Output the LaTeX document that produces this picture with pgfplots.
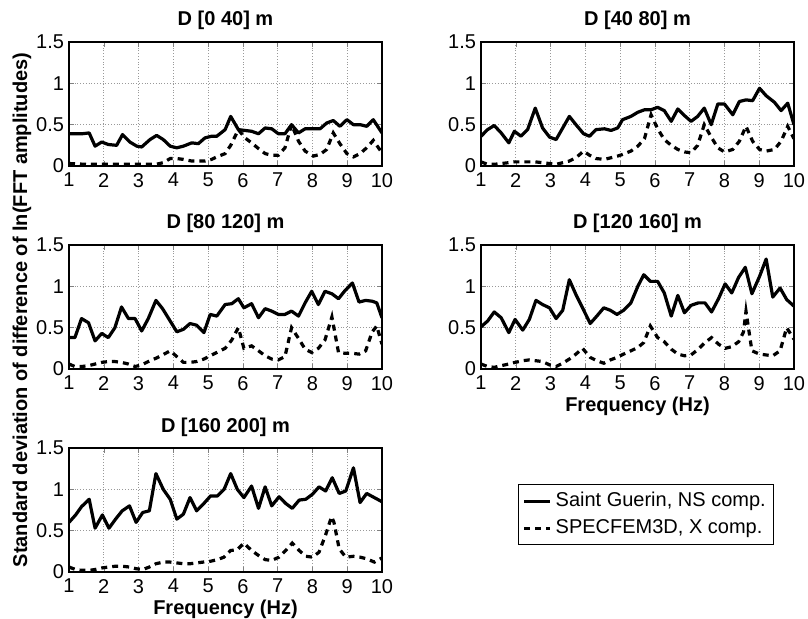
\documentclass[border=0pt]{standalone}
\usepackage{fontspec}
\setmainfont{Liberation Sans}
\usepackage{pgfplots}
\pgfplotsset{compat=1.18}
\pgfplotsset{
  every axis title shift=0pt,
  panel/.style={
    scale only axis, width=156.5pt, height=62pt,
    xmin=1,xmax=10,ymin=0,ymax=1.5,
    xtick={1,...,10}, ytick={0,0.5,1,1.5},
    tick align=inside, major tick length=2.5pt,
    grid=major, grid style={densely dotted, gray!80, line width=0.35pt},
    axis line style={line width=0.6pt},
    /pgf/number format/assume math mode=true,
    tick label style={font=\fontsize{10}{12}\selectfont},
    yticklabel style={xshift=1pt},
    title style={font=\fontsize{10}{12}\selectfont\bfseries, at={(0.5,1)}, anchor=base, yshift=8pt},
    label style={font=\fontsize{10}{12}\selectfont\bfseries},
    xlabel style={at={(0.5,0)}, anchor=base, yshift=-21.3pt},
  },
  sline/.style={black, line width=1.6pt, line join=round},
  dline/.style={black, line width=1.6pt, dash pattern=on 3pt off 2.5pt},
}
\begin{document}
\begin{tikzpicture}
\useasboundingbox (0pt,0pt) rectangle (404pt,-309.5pt);
% Panel 1
\begin{axis}[panel, at={(34.5pt,-83pt)}, anchor=south west, title={D [0 40] m}]
\addplot[sline] coordinates {(1.00,0.39)(1.19,0.39)(1.38,0.39)(1.58,0.40)(1.75,0.24)(1.94,0.29)(2.13,0.26)(2.37,0.25)(2.54,0.38)(2.75,0.29)(2.95,0.24)(3.09,0.23)(3.33,0.32)(3.52,0.37)(3.71,0.32)(3.91,0.24)(4.10,0.22)(4.29,0.24)(4.53,0.28)(4.72,0.27)(4.91,0.34)(5.10,0.36)(5.25,0.36)(5.49,0.44)(5.65,0.60)(5.87,0.44)(6.06,0.43)(6.25,0.42)(6.45,0.39)(6.64,0.46)(6.83,0.45)(7.02,0.39)(7.21,0.39)(7.40,0.50)(7.60,0.40)(7.79,0.45)(8.03,0.45)(8.22,0.45)(8.41,0.52)(8.60,0.55)(8.79,0.48)(8.99,0.56)(9.18,0.50)(9.37,0.50)(9.56,0.48)(9.75,0.56)(10.0,0.40)};
\addplot[dline] coordinates {(1.00,0.03)(1.5,0.02)(2.0,0.02)(2.5,0.02)(3.0,0.02)(3.5,0.02)(3.71,0.04)(3.91,0.09)(4.10,0.09)(4.29,0.08)(4.53,0.06)(4.72,0.06)(4.91,0.06)(5.10,0.08)(5.25,0.11)(5.49,0.15)(5.65,0.25)(5.87,0.44)(6.06,0.34)(6.25,0.28)(6.45,0.21)(6.64,0.15)(6.83,0.13)(7.02,0.13)(7.21,0.22)(7.40,0.50)(7.60,0.30)(7.79,0.18)(8.03,0.12)(8.22,0.14)(8.41,0.20)(8.60,0.40)(8.79,0.27)(8.99,0.15)(9.18,0.11)(9.37,0.15)(9.56,0.22)(9.75,0.31)(10.0,0.16)};
\end{axis}
% Panel 2
\begin{axis}[panel, at={(240.5pt,-83pt)}, anchor=south west, title={D [40 80] m}]
\addplot[sline] coordinates {(1.00,0.36)(1.19,0.44)(1.38,0.49)(1.58,0.40)(1.80,0.28)(1.96,0.42)(2.15,0.36)(2.34,0.44)(2.56,0.70)(2.77,0.46)(2.97,0.35)(3.16,0.32)(3.35,0.46)(3.54,0.60)(3.73,0.50)(3.95,0.39)(4.12,0.36)(4.31,0.44)(4.55,0.45)(4.74,0.43)(4.93,0.46)(5.07,0.56)(5.31,0.60)(5.51,0.65)(5.70,0.68)(5.89,0.68)(6.08,0.71)(6.27,0.67)(6.47,0.54)(6.66,0.69)(6.85,0.61)(7.04,0.54)(7.23,0.60)(7.42,0.70)(7.62,0.50)(7.81,0.75)(8.00,0.75)(8.24,0.62)(8.43,0.78)(8.62,0.80)(8.81,0.79)(9.01,0.94)(9.20,0.85)(9.44,0.77)(9.63,0.67)(9.82,0.76)(10.0,0.50)};
\addplot[dline] coordinates {(1.00,0.05)(1.19,0.02)(1.38,0.02)(1.58,0.03)(1.80,0.04)(1.96,0.05)(2.15,0.05)(2.34,0.05)(2.56,0.05)(2.77,0.04)(2.97,0.03)(3.16,0.02)(3.35,0.04)(3.54,0.06)(3.73,0.10)(3.95,0.18)(4.12,0.13)(4.31,0.09)(4.55,0.08)(4.74,0.10)(4.93,0.12)(5.07,0.14)(5.31,0.18)(5.51,0.24)(5.70,0.33)(5.89,0.62)(6.08,0.45)(6.27,0.32)(6.47,0.25)(6.66,0.20)(6.85,0.17)(7.04,0.16)(7.23,0.25)(7.42,0.50)(7.62,0.35)(7.81,0.22)(8.00,0.17)(8.24,0.20)(8.43,0.30)(8.62,0.48)(8.81,0.30)(9.01,0.20)(9.20,0.18)(9.44,0.20)(9.63,0.30)(9.82,0.48)(10.0,0.33)};
\end{axis}
% Panel 3
\begin{axis}[panel, at={(34.5pt,-184.5pt)}, anchor=south west, title={D [80 120] m}]
\addplot[sline] coordinates {(1.00,0.38)(1.17,0.38)(1.36,0.61)(1.56,0.56)(1.75,0.34)(1.94,0.43)(2.13,0.38)(2.32,0.50)(2.51,0.75)(2.71,0.61)(2.90,0.61)(3.09,0.46)(3.28,0.61)(3.50,0.83)(3.69,0.73)(3.91,0.58)(4.10,0.45)(4.29,0.48)(4.48,0.55)(4.67,0.53)(4.88,0.44)(5.06,0.66)(5.25,0.64)(5.49,0.78)(5.68,0.79)(5.87,0.85)(6.03,0.74)(6.25,0.79)(6.45,0.62)(6.64,0.73)(6.83,0.70)(7.02,0.66)(7.21,0.66)(7.40,0.70)(7.60,0.64)(7.79,0.80)(7.98,0.94)(8.17,0.78)(8.36,0.94)(8.56,0.91)(8.75,0.85)(8.94,0.95)(9.15,1.04)(9.34,0.81)(9.53,0.83)(9.72,0.82)(9.85,0.80)(10.0,0.62)};
\addplot[dline] coordinates {(1.00,0.06)(1.17,0.03)(1.36,0.03)(1.56,0.04)(1.75,0.06)(1.94,0.08)(2.13,0.09)(2.32,0.09)(2.51,0.08)(2.71,0.06)(2.90,0.03)(3.09,0.05)(3.28,0.09)(3.50,0.13)(3.69,0.17)(3.91,0.22)(4.10,0.15)(4.29,0.08)(4.48,0.08)(4.67,0.09)(4.88,0.12)(5.06,0.16)(5.25,0.20)(5.49,0.25)(5.68,0.35)(5.87,0.50)(6.03,0.25)(6.25,0.28)(6.45,0.22)(6.64,0.16)(6.83,0.12)(7.02,0.11)(7.21,0.15)(7.40,0.50)(7.60,0.37)(7.79,0.24)(7.98,0.20)(8.17,0.25)(8.36,0.35)(8.56,0.63)(8.75,0.20)(8.94,0.19)(9.15,0.19)(9.34,0.18)(9.53,0.22)(9.72,0.45)(9.85,0.52)(10.0,0.30)};
\end{axis}
% Panel 4
\begin{axis}[panel, at={(240.5pt,-184.5pt)}, anchor=south west, title={D [120 160] m}, xlabel={Frequency (Hz)}]
\addplot[sline] coordinates {(1.00,0.51)(1.19,0.58)(1.38,0.69)(1.58,0.62)(1.80,0.44)(1.98,0.60)(2.20,0.47)(2.39,0.60)(2.58,0.83)(2.77,0.78)(2.97,0.74)(3.16,0.61)(3.35,0.71)(3.54,1.08)(3.73,0.90)(3.92,0.74)(4.14,0.55)(4.33,0.64)(4.53,0.74)(4.72,0.71)(4.91,0.66)(5.10,0.71)(5.31,0.80)(5.51,1.00)(5.68,1.14)(5.87,1.06)(6.08,1.06)(6.27,0.92)(6.47,0.64)(6.66,0.89)(6.85,0.68)(7.04,0.77)(7.25,0.80)(7.44,0.80)(7.63,0.69)(7.83,0.85)(8.02,1.03)(8.21,0.92)(8.41,1.11)(8.60,1.23)(8.79,0.91)(9.01,1.12)(9.20,1.33)(9.39,0.87)(9.60,0.98)(9.79,0.84)(10.0,0.76)};
\addplot[dline] coordinates {(1.00,0.06)(1.19,0.03)(1.38,0.02)(1.58,0.04)(1.80,0.06)(1.98,0.08)(2.20,0.10)(2.39,0.11)(2.58,0.10)(2.77,0.09)(2.97,0.05)(3.16,0.03)(3.35,0.07)(3.54,0.12)(3.73,0.18)(3.92,0.25)(4.14,0.14)(4.33,0.10)(4.53,0.07)(4.72,0.11)(4.91,0.14)(5.10,0.18)(5.31,0.22)(5.51,0.26)(5.68,0.32)(5.87,0.52)(6.08,0.38)(6.27,0.33)(6.47,0.24)(6.66,0.18)(6.85,0.16)(7.04,0.17)(7.25,0.24)(7.44,0.32)(7.63,0.38)(7.83,0.30)(8.02,0.25)(8.21,0.27)(8.41,0.33)(8.55,0.45)(8.62,0.70)(8.79,0.22)(9.01,0.18)(9.20,0.17)(9.39,0.16)(9.60,0.22)(9.79,0.50)(10.0,0.36)};
\end{axis}
% Panel 5
\begin{axis}[panel, at={(34.5pt,-286pt)}, anchor=south west, title={D [160 200] m}, xlabel={Frequency (Hz)},
  legend style={at={(1.4345,0.7097)}, anchor=north west, draw=black, line width=0.5pt,
    font=\fontsize{10}{12}\selectfont, inner sep=2pt, row sep=1pt},
  legend cell align=left,
  legend image code/.code={\draw[#1] (0pt,0pt) -- (13pt,0pt);}]
\addplot[sline] coordinates {(1.00,0.60)(1.19,0.69)(1.36,0.79)(1.58,0.88)(1.75,0.53)(1.96,0.69)(2.15,0.53)(2.34,0.64)(2.53,0.74)(2.74,0.80)(2.93,0.60)(3.12,0.72)(3.31,0.74)(3.50,1.19)(3.71,1.00)(3.91,0.88)(4.10,0.64)(4.29,0.70)(4.48,0.90)(4.67,0.74)(4.86,0.82)(5.07,0.92)(5.27,0.92)(5.46,1.00)(5.65,1.19)(5.84,1.00)(6.03,0.90)(6.25,1.04)(6.45,0.77)(6.64,1.03)(6.83,0.80)(7.04,0.91)(7.23,0.83)(7.42,0.77)(7.62,0.87)(7.81,0.88)(8.00,0.94)(8.19,1.03)(8.38,0.98)(8.57,1.14)(8.77,0.95)(8.96,0.98)(9.18,1.26)(9.37,0.84)(9.56,0.95)(9.78,0.90)(10.0,0.85)};
\addlegendentry{Saint Guerin, NS comp.}
\addplot[dline] coordinates {(1.00,0.06)(1.19,0.03)(1.36,0.02)(1.58,0.02)(1.75,0.03)(1.96,0.05)(2.15,0.06)(2.34,0.07)(2.53,0.07)(2.74,0.06)(2.93,0.04)(3.12,0.03)(3.31,0.06)(3.50,0.10)(3.71,0.12)(3.91,0.12)(4.10,0.11)(4.29,0.10)(4.48,0.10)(4.67,0.11)(4.86,0.12)(5.07,0.13)(5.27,0.15)(5.46,0.18)(5.65,0.26)(5.84,0.27)(6.03,0.35)(6.25,0.26)(6.45,0.20)(6.64,0.15)(6.83,0.14)(7.04,0.18)(7.23,0.26)(7.42,0.35)(7.62,0.26)(7.81,0.19)(8.00,0.18)(8.19,0.24)(8.38,0.45)(8.55,0.67)(8.62,0.60)(8.77,0.28)(8.96,0.18)(9.18,0.19)(9.37,0.18)(9.56,0.16)(9.78,0.12)(10.0,0.17)};
\addlegendentry{SPECFEM3D, X comp.}
\end{axis}
\node[rotate=90, anchor=base, font=\fontsize{10}{12}\selectfont\bfseries] at (13.5pt,-155pt) {Standard deviation of difference of ln(FFT amplitudes)};
\end{tikzpicture}
\end{document}
